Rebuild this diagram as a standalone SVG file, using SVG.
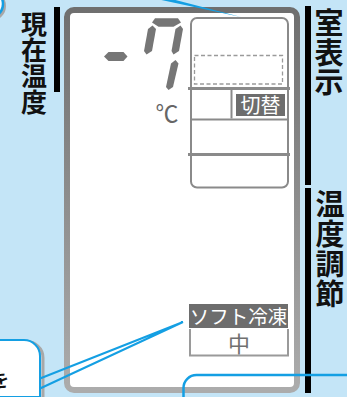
<svg xmlns="http://www.w3.org/2000/svg" width="347" height="397" viewBox="0 0 347 397">
<style>
.lbl{font-family:"Noto Sans CJK JP","Noto Sans",sans-serif;font-size:28px;font-weight:bold;fill:#111;text-anchor:middle}
.seg{fill:#767676}
.ln{stroke:#8a8a8a;fill:none}
.blue{stroke:#149fe3;fill:none}
.inv{font-family:"Noto Sans CJK JP","Noto Sans",sans-serif;fill:#fff;text-anchor:middle}
.bar{fill:#000}
</style>
<defs>
<linearGradient id="fr" x1="0" y1="0" x2="0" y2="1">
<stop offset="0" stop-color="#6f6f6f"/>
<stop offset="1" stop-color="#acacac"/>
</linearGradient>
</defs>
<rect x="0" y="0" width="347" height="397" fill="#c4e5f7"/>
<g id="corner-circle">
<circle cx="-9" cy="6" r="15" fill="#a8a8a8"/>
<circle cx="-11" cy="4" r="14" fill="#fff" stroke="#149fe3" stroke-width="2.5"/>
</g>
<g id="bars">
<rect class="bar" x="54" y="7" width="6" height="85"/>
<rect class="bar" x="305" y="6" width="6" height="179"/>
<rect class="bar" x="305" y="188" width="6" height="205"/>
</g>
<g id="labels">
<text class="lbl" style="font-size:26px"><tspan x="34" y="33.5">現</tspan><tspan x="34" y="59.5">在</tspan><tspan x="34" y="86">温</tspan><tspan x="34" y="112">度</tspan></text>
<text class="lbl" style="font-size:29px"><tspan x="329" y="34">室</tspan><tspan x="329" y="63.5">表</tspan><tspan x="329" y="93">示</tspan></text>
<text class="lbl" style="font-size:29px"><tspan x="330" y="214.5">温</tspan><tspan x="330" y="244.5">度</tspan><tspan x="330" y="274.5">調</tspan><tspan x="330" y="305">節</tspan></text>
</g>
<g id="lcd">
<rect x="67" y="10" width="230" height="380" rx="7" fill="#fff" stroke="url(#fr)" stroke-width="6"/>
<g id="digits">
<polygon class="seg" points="104,56.5 108.5,52 123.5,52 127.5,56.5 123.5,61 108.5,61"/>
<polygon class="seg" points="155,18.3 178,18.3 181,22.5 173.5,26.7 158.5,26.7 152,22.5"/>
<polygon class="seg" points="152.5,25.5 156,29 152,51 146.5,54.5 144,51 148,29"/>
<polygon class="seg" points="180.5,25.5 183,29 179,51 173.5,54.5 171.5,51 175.5,29"/>
<polygon class="seg" points="175.5,60 178.5,63.5 173,87 168.5,90 166,87 171,63.5"/>
<text x="167" y="122" font-family="Noto Sans CJK JP,DejaVu Sans,sans-serif" font-size="23" fill="#666" text-anchor="middle">℃</text>
</g>
<g id="room-column">
<rect class="ln" x="191" y="18" width="97" height="169.5" rx="6" stroke-width="2"/>
<rect x="194.5" y="55.5" width="88" height="28.5" fill="none" stroke="#9a9a9a" stroke-width="1.3" stroke-dasharray="4 2.5"/>
<line class="ln" x1="188" y1="88.5" x2="290" y2="88.5" stroke-width="3"/>
<line class="ln" x1="231.5" y1="90" x2="231.5" y2="118.5" stroke-width="2"/>
<line class="ln" x1="191" y1="119.5" x2="288" y2="119.5" stroke-width="2"/>
<line class="ln" x1="188" y1="154.5" x2="290" y2="154.5" stroke-width="3"/>
<g id="kirikae">
<rect x="236" y="94" width="49" height="22" fill="#6d6d6d"/>
<text class="inv" x="260.5" y="113" font-size="20">切替</text>
</g>
</g>
<g id="soft">
<rect x="189" y="304" width="99" height="24" fill="#6d6d6d"/>
<text class="inv" x="238.5" y="323.5" font-size="19.5">ソフト冷凍</text>
<polyline points="190,329 190,355.5 288,355.5 288,329" fill="none" stroke="#9a9a9a" stroke-width="2"/>
<text x="239" y="351.5" font-family="Noto Sans CJK JP,sans-serif" font-size="22" fill="#707070" text-anchor="middle">中</text>
</g>
</g>
<g id="callout-box">
<path d="M-5,342 H25 A16,16 0 0 1 43,358 V397" fill="none" stroke="#a8a8a8" stroke-width="3"/>
<path d="M-5,340 H24 A16,16 0 0 1 40,356 V397 H-5 Z" fill="#fff" stroke="#149fe3" stroke-width="2"/>
<text x="-9" y="387" font-family="Noto Sans CJK JP,sans-serif" font-size="18" font-weight="bold" fill="#111">を</text>
</g>
<g id="connectors">
<polygon points="160,-4 160,-0.3 241,17" fill="#149fe3"/>
<polyline class="blue" points="40,378.5 183,322 40,388.5" stroke-width="2"/>
<path class="blue" d="M183.5,397 V388 A13,13 0 0 1 196.5,375 H347" stroke-width="2.5"/>
</g>
</svg>
